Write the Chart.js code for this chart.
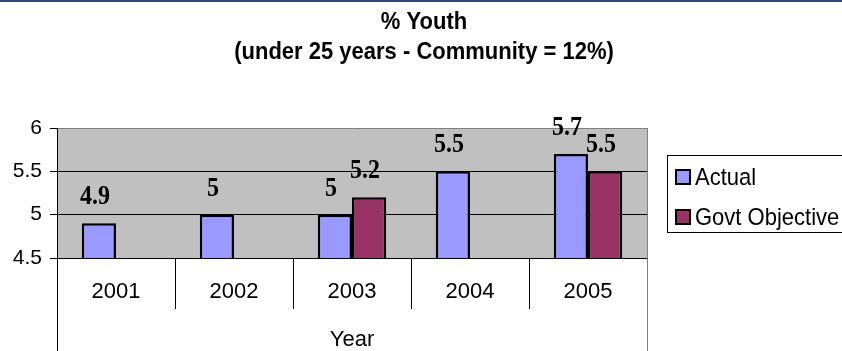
<!DOCTYPE html>
<html lang="en">
<head>
<meta charset="UTF-8">
<title>% Youth</title>
<script src="https://cdn.jsdelivr.net/npm/chart.js@4"></script>
<style>
    body { margin: 0; background: #fff; }
    canvas { display: block; }
</style>
</head>
<body>
<canvas id="youthChart" width="842" height="351"></canvas>
<script>
const years = ['2001', '2002', '2003', '2004', '2005'];
const actual = [4.9, 5, 5, 5.5, 5.7];
const govtObjective = [null, null, 5.2, null, 5.5];
const titleLines = ['% Youth', '(under 25 years - Community = 12%)'];
const yMin = 4.5;
const yMax = 6;
const yStep = 0.5;

const SANS = '"Liberation Sans", Arial, sans-serif';
const SERIF = '"Liberation Serif", "Times New Roman", serif';

// text a little taller than wide, like the original export
function tallText(ctx, text, x, y) {
    ctx.save();
    ctx.translate(x, y);
    ctx.scale(1, 1.12);
    ctx.fillText(text, 0, 0);
    ctx.restore();
}

// background, frame, title, value labels and legend
const decorPlugin = {
    id: 'decor',
    beforeDraw(chart) {
        const { ctx, chartArea: a } = chart;
        ctx.save();
        ctx.fillStyle = '#2d4677';
        ctx.fillRect(0, 0, chart.width, 2);
        ctx.fillStyle = '#c0c0c0';
        ctx.fillRect(a.left, a.top, a.right - a.left, a.bottom - a.top);
        ctx.restore();
    },
    afterDatasetsDraw(chart) {
        const { ctx, chartArea: a } = chart;
        ctx.save();
        // plot frame (right side) and lower box lines
        ctx.strokeStyle = '#808080';
        ctx.lineWidth = 1;
        ctx.beginPath();
        ctx.moveTo(a.right + 0.5, a.top);
        ctx.lineTo(a.right + 0.5, chart.height);
        ctx.stroke();
        ctx.strokeStyle = '#000';
        ctx.beginPath();
        ctx.moveTo(a.left + 0.5, a.bottom);
        ctx.lineTo(a.left + 0.5, chart.height);
        ctx.stroke();

        // value labels
        ctx.font = 'bold 24px ' + SERIF;
        ctx.fillStyle = '#000';
        ctx.textAlign = 'center';
        ctx.textBaseline = 'middle';
        chart.data.datasets.forEach((ds, di) => {
            const meta = chart.getDatasetMeta(di);
            meta.data.forEach((bar, i) => {
                const v = ds.data[i];
                if (v === null || v === undefined) return;
                tallText(ctx, String(v), bar.x - 4, bar.y - 26);
            });
        });

        // title
        ctx.font = 'bold 22px ' + SANS;
        titleLines.forEach((line, i) => {
            tallText(ctx, line, chart.width / 2 + 3, 22 + i * 30);
        });

        // legend
        const lx = a.right + 20;
        const ly = 155;
        ctx.strokeStyle = '#000';
        ctx.lineWidth = 1;
        ctx.strokeRect(lx + 0.5, ly + 0.5, 200, 77);
        ctx.font = '22px ' + SANS;
        ctx.textAlign = 'left';
        chart.data.datasets.forEach((ds, di) => {
            const cy = ly + 22 + di * 40;
            ctx.fillStyle = ds.backgroundColor;
            ctx.fillRect(lx + 9, cy - 7, 14, 14);
            ctx.lineWidth = 2;
            ctx.strokeStyle = '#000';
            ctx.strokeRect(lx + 9, cy - 7, 14, 14);
            ctx.fillStyle = '#000';
            tallText(ctx, ds.label, lx + 28, cy + 1);
        });
        ctx.restore();
    }
};

new Chart(document.getElementById('youthChart'), {
    type: 'bar',
    data: {
        labels: years,
        datasets: [
            {
                label: 'Actual',
                data: actual,
                backgroundColor: '#9999ff',
                borderColor: '#000',
                borderWidth: 2.5
            },
            {
                label: 'Govt Objective',
                data: govtObjective,
                backgroundColor: '#993366',
                borderColor: '#000',
                borderWidth: 2.5
            }
        ]
    },
    options: {
        responsive: false,
        animation: false,
        devicePixelRatio: 1,
        barPercentage: 1,
        categoryPercentage: 0.58,
        layout: { padding: { top: 128, right: 195, bottom: 0, left: 0 } },
        plugins: {
            legend: { display: false },
            title: { display: false },
            tooltip: { enabled: false }
        },
        scales: {
            y: {
                min: yMin,
                max: yMax,
                ticks: {
                    stepSize: yStep,
                    color: '#000',
                    padding: 8,
                    font: { family: SANS, size: 21 },
                    callback: (v) => String(v)
                },
                grid: {
                    color: (c) => (c.tick && c.tick.value === yMax ? '#808080' : '#000'),
                    tickColor: '#000',
                    tickLength: 7
                },
                border: { color: '#000', width: 1 },
                afterFit(scale) { scale.width = 57; }
            },
            x: {
                offset: true,
                ticks: {
                    color: '#000',
                    padding: -30,
                    maxRotation: 0,
                    font: { family: SANS, size: 22 }
                },
                grid: {
                    offset: true,
                    drawOnChartArea: false,
                    color: '#000',
                    tickLength: 51
                },
                border: { color: '#000', width: 1 },
                title: {
                    display: true,
                    text: 'Year',
                    color: '#000',
                    padding: 0,
                    font: { family: SANS, size: 22, lineHeight: 1 }
                },
                afterFit(scale) { scale.height = 93; }
            }
        }
    },
    plugins: [decorPlugin]
});
</script>
</body>
</html>
